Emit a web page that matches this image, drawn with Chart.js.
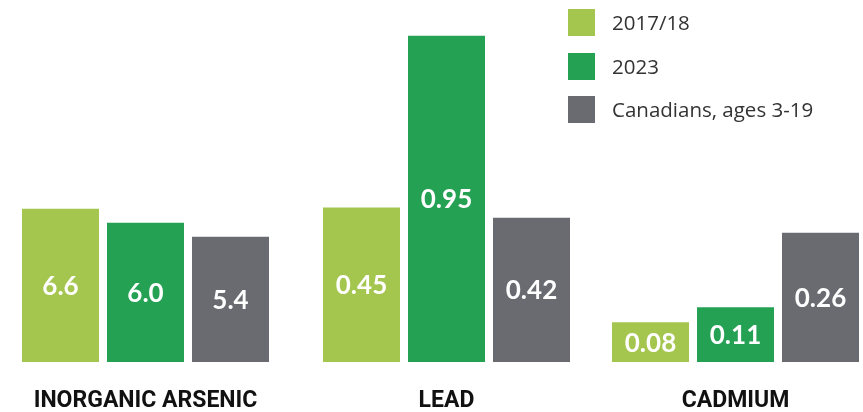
<!DOCTYPE html>
<html>
<head>
<meta charset="utf-8">
<script src="https://cdn.jsdelivr.net/npm/chart.js@4/dist/chart.umd.min.js"></script>
<style>
  body { margin: 0; background: #fff; width: 863px; height: 412px; overflow: hidden; position: relative; }
  .box { position: absolute; top: 0; width: 255px; height: 412px; }
  #legend { position: absolute; left: 568px; top: 9px; font-family: "Open Sans", sans-serif; font-size: 20.5px; color: #333; }
  #legend div { height: 43.5px; display: flex; align-items: flex-start; }
  #legend span.sw { width: 27px; height: 27px; margin-right: 17px; display: inline-block; }
  #legend span.tx { line-height: 27px; }
</style>
</head>
<body>
<div class="box" style="left:18px"><canvas id="c0"></canvas></div>
<div class="box" style="left:319px"><canvas id="c1"></canvas></div>
<div class="box" style="left:608px"><canvas id="c2"></canvas></div>
<div id="legend"></div>
<script>
var categories = ['INORGANIC ARSENIC', 'LEAD', 'CADMIUM'];
var seriesNames = ['2017/18', '2023', 'Canadians, ages 3-19'];
var values2017 = [6.6, 0.45, 0.08];
var values2023 = [6.0, 0.95, 0.11];
var valuesCanada = [5.4, 0.42, 0.26];
var decimals = [1, 2, 2];

var allValues = [values2017, values2023, valuesCanada];
var colors = ['#a4c64f', '#24a153', '#696b70'];
// each metal has its own scale in the original
var scaleMax = [15.6, 1.054, 0.728];

// value labels in the middle of each bar
var barLabels = {
  id: 'barLabels',
  afterDatasetsDraw: function(chart) {
    var ctx = chart.ctx;
    var idx = chart.options.catIndex;
    ctx.save();
    ctx.fillStyle = '#fff';
    ctx.font = 'bold 26px Lato';
    ctx.textAlign = 'center';
    ctx.textBaseline = 'middle';
    chart.data.datasets.forEach(function(ds, i) {
      var bar = chart.getDatasetMeta(i).data[0];
      ctx.fillText(ds.data[0].toFixed(decimals[idx]), bar.x, (bar.y + bar.base) / 2 + 1);
    });
    ctx.restore();
  }
};

categories.forEach(function(cat, i) {
  var datasets = seriesNames.map(function(name, j) {
    return {
      label: name,
      data: [allValues[j][i]],
      backgroundColor: colors[j],
      barPercentage: 77 / 85,
      categoryPercentage: 1
    };
  });
  new Chart(document.getElementById('c' + i), {
    type: 'bar',
    data: { labels: [cat], datasets: datasets },
    options: {
      catIndex: i,
      responsive: true,
      maintainAspectRatio: false,
      animation: false,
      layout: { padding: 0 },
      plugins: { legend: { display: false }, tooltip: { enabled: false } },
      scales: {
        x: {
          grid: { display: false, drawTicks: false },
          border: { display: false },
          ticks: {
            color: '#111',
            font: { family: 'Roboto', weight: 'bold', size: 23 },
            padding: 25
          },
          afterFit: function(scale) {
            scale.height = 50;
            scale.paddingLeft = 0;
            scale.paddingRight = 0;
          }
        },
        y: { display: false, min: 0, max: scaleMax[i] }
      }
    },
    plugins: [barLabels]
  });
});

var legend = document.getElementById('legend');
seriesNames.forEach(function(name, j) {
  var row = document.createElement('div');
  row.innerHTML = '<span class="sw" style="background:' + colors[j] + '"></span><span class="tx">' + name + '</span>';
  legend.appendChild(row);
});
</script>
</body>
</html>
